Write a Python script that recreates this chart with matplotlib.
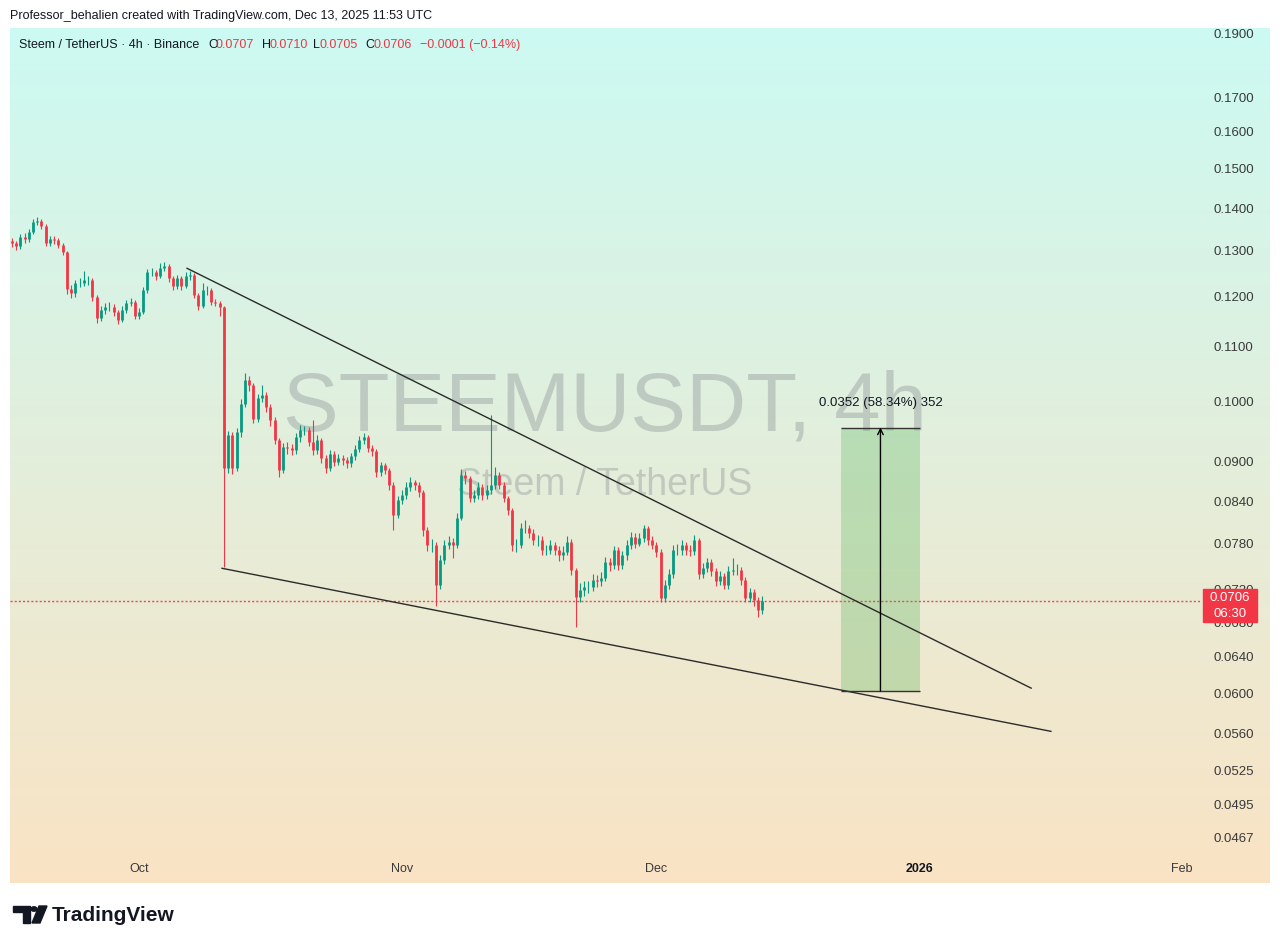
import matplotlib
matplotlib.use('Agg')
import matplotlib.pyplot as plt
import matplotlib.dates as mdates
from matplotlib.patches import Rectangle, Polygon, Circle
from matplotlib.ticker import NullLocator
import numpy as np
import pandas as pd

plt.rcParams['font.family'] = ['Liberation Sans', 'DejaVu Sans']

W, H = 1280, 947

# 12h candles from 2025-09-16
first_open = 0.1322
closes = [
    0.1317, 0.1311, 0.1331, 0.1326, 0.1343, 0.1367, 0.1369, 0.1358, 0.1317, 0.1326,
    0.1324, 0.1313, 0.1297, 0.1216, 0.1207, 0.1229, 0.1229, 0.1235, 0.1235, 0.1199,
    0.1156, 0.1172, 0.1178, 0.1178, 0.1168, 0.1152, 0.1172, 0.1187, 0.1189, 0.1160,
    0.1168, 0.1214, 0.1253, 0.1253, 0.1244, 0.1261, 0.1265, 0.1239, 0.1222, 0.1239,
    0.1222, 0.1244, 0.1246, 0.1204, 0.1180, 0.1214, 0.1214, 0.1189, 0.1187, 0.1178,
    0.0890, 0.0943, 0.0890, 0.0947, 0.0995, 0.1037, 0.1028, 0.0970, 0.1005, 0.1011,
    0.0990, 0.0967, 0.0934, 0.0887, 0.0923, 0.0921, 0.0918, 0.0939, 0.0951, 0.0951,
    0.0932, 0.0918, 0.0934, 0.0905, 0.0890, 0.0912, 0.0900, 0.0905, 0.0902, 0.0897,
    0.0908, 0.0920, 0.0934, 0.0939, 0.0921, 0.0916, 0.0884, 0.0894, 0.0887, 0.0864,
    0.0820, 0.0841, 0.0849, 0.0861, 0.0868, 0.0864, 0.0853, 0.0798, 0.0778, 0.0778,
    0.0725, 0.0758, 0.0778, 0.0782, 0.0778, 0.0816, 0.0879, 0.0874, 0.0844, 0.0849,
    0.0861, 0.0849, 0.0856, 0.0864, 0.0879, 0.0864, 0.0844, 0.0827, 0.0778, 0.0778,
    0.0801, 0.0801, 0.0795, 0.0785, 0.0785, 0.0771, 0.0771, 0.0778, 0.0771, 0.0764,
    0.0769, 0.0782, 0.0745, 0.0711, 0.0719, 0.0723, 0.0723, 0.0732, 0.0730, 0.0735,
    0.0755, 0.0751, 0.0771, 0.0751, 0.0764, 0.0778, 0.0789, 0.0780, 0.0787, 0.0801,
    0.0785, 0.0778, 0.0769, 0.0709, 0.0725, 0.0739, 0.0771, 0.0771, 0.0778, 0.0771,
    0.0770, 0.0785, 0.0739, 0.0747, 0.0755, 0.0743, 0.0730, 0.0737, 0.0725, 0.0743,
    0.0745, 0.0745, 0.0732, 0.0709, 0.0717, 0.0707, 0.0694, 0.0706,
]
highs = [
    0.1330, 0.1322, 0.1338, 0.1340, 0.1350, 0.1375, 0.1378, 0.1374, 0.1362, 0.1334,
    0.1333, 0.1330, 0.1318, 0.1300, 0.1225, 0.1236, 0.1240, 0.1255, 0.1245, 0.1240,
    0.1203, 0.1180, 0.1186, 0.1188, 0.1184, 0.1172, 0.1180, 0.1194, 0.1198, 0.1193,
    0.1176, 0.1220, 0.1260, 0.1262, 0.1258, 0.1273, 0.1275, 0.1270, 0.1244, 0.1246,
    0.1244, 0.1252, 0.1255, 0.1250, 0.1208, 0.1229, 0.1222, 0.1218, 0.1196, 0.1192,
    0.1180, 0.0950, 0.0948, 0.0955, 0.1003, 0.1050, 0.1045, 0.1032, 0.1012, 0.1028,
    0.1016, 0.0995, 0.0972, 0.0938, 0.0930, 0.0932, 0.0928, 0.0946, 0.0960, 0.0958,
    0.0956, 0.0967, 0.0942, 0.0938, 0.0910, 0.0918, 0.0916, 0.0912, 0.0910, 0.0907,
    0.0914, 0.0927, 0.0941, 0.0946, 0.0943, 0.0926, 0.0920, 0.0900, 0.0898, 0.0890,
    0.0868, 0.0848, 0.0856, 0.0868, 0.0876, 0.0872, 0.0868, 0.0856, 0.0803, 0.0786,
    0.0782, 0.0765, 0.0785, 0.0790, 0.0788, 0.0822, 0.0888, 0.0886, 0.0878, 0.0856,
    0.0868, 0.0866, 0.0864, 0.0976, 0.0892, 0.0884, 0.0868, 0.0848, 0.0830, 0.0786,
    0.0808, 0.0812, 0.0806, 0.0800, 0.0792, 0.0790, 0.0778, 0.0785, 0.0782, 0.0776,
    0.0776, 0.0790, 0.0786, 0.0748, 0.0728, 0.0730, 0.0731, 0.0739, 0.0738, 0.0742,
    0.0762, 0.0760, 0.0777, 0.0775, 0.0770, 0.0785, 0.0796, 0.0794, 0.0795, 0.0806,
    0.0804, 0.0790, 0.0782, 0.0772, 0.0732, 0.0746, 0.0778, 0.0779, 0.0785, 0.0782,
    0.0778, 0.0792, 0.0788, 0.0754, 0.0761, 0.0759, 0.0747, 0.0743, 0.0741, 0.0750,
    0.0760, 0.0752, 0.0749, 0.0736, 0.0722, 0.0720, 0.0710, 0.0712,
]
lows = [
    0.1308, 0.1303, 0.1305, 0.1318, 0.1320, 0.1338, 0.1360, 0.1350, 0.1310, 0.1310,
    0.1316, 0.1306, 0.1290, 0.1205, 0.1198, 0.1200, 0.1220, 0.1222, 0.1225, 0.1192,
    0.1146, 0.1150, 0.1165, 0.1170, 0.1160, 0.1145, 0.1148, 0.1166, 0.1180, 0.1154,
    0.1155, 0.1164, 0.1208, 0.1244, 0.1236, 0.1240, 0.1255, 0.1232, 0.1214, 0.1216,
    0.1215, 0.1218, 0.1236, 0.1198, 0.1172, 0.1176, 0.1203, 0.1182, 0.1180, 0.1160,
    0.0749, 0.0882, 0.0880, 0.0885, 0.0940, 0.0990, 0.1018, 0.0962, 0.0965, 0.0998,
    0.0982, 0.0958, 0.0928, 0.0876, 0.0882, 0.0912, 0.0910, 0.0912, 0.0932, 0.0942,
    0.0925, 0.0910, 0.0912, 0.0898, 0.0882, 0.0885, 0.0893, 0.0895, 0.0894, 0.0890,
    0.0892, 0.0903, 0.0915, 0.0928, 0.0915, 0.0908, 0.0876, 0.0878, 0.0880, 0.0856,
    0.0798, 0.0815, 0.0836, 0.0843, 0.0855, 0.0857, 0.0846, 0.0790, 0.0770, 0.0768,
    0.0700, 0.0720, 0.0752, 0.0772, 0.0760, 0.0774, 0.0812, 0.0866, 0.0838, 0.0838,
    0.0843, 0.0842, 0.0843, 0.0850, 0.0858, 0.0858, 0.0838, 0.0820, 0.0770, 0.0768,
    0.0774, 0.0794, 0.0788, 0.0778, 0.0776, 0.0764, 0.0764, 0.0766, 0.0764, 0.0757,
    0.0758, 0.0764, 0.0738, 0.0674, 0.0704, 0.0712, 0.0715, 0.0718, 0.0723, 0.0724,
    0.0730, 0.0744, 0.0746, 0.0745, 0.0746, 0.0758, 0.0772, 0.0774, 0.0776, 0.0782,
    0.0778, 0.0772, 0.0762, 0.0704, 0.0704, 0.0720, 0.0735, 0.0764, 0.0765, 0.0765,
    0.0763, 0.0765, 0.0733, 0.0734, 0.0742, 0.0737, 0.0724, 0.0725, 0.0720, 0.0721,
    0.0738, 0.0738, 0.0726, 0.0704, 0.0704, 0.0700, 0.0686, 0.0690,
]
opens = [first_open] + closes[:-1]
times = pd.date_range('2025-09-16', periods=len(closes), freq='12h')

# drawings on the chart
upper_line_dates = ['2025-10-06 16:00', '2026-01-14 05:00']
upper_line_prices = [0.1261, 0.0606]
lower_line_dates = ['2025-10-10 19:00', '2026-01-16 13:00']
lower_line_prices = [0.0747, 0.0562]
range_dates = ['2025-12-22 19:00', '2026-01-01 02:00']
range_prices = [0.0603, 0.0955]
range_label = '0.0352 (58.34%) 352'
last_price = 0.0706

price_ticks = [0.19, 0.17, 0.16, 0.15, 0.14, 0.13, 0.12, 0.11, 0.10, 0.09, 0.084,
               0.078, 0.072, 0.068, 0.064, 0.060, 0.056, 0.0525, 0.0495, 0.0467]
month_ticks = ['2025-10-01', '2025-11-01', '2025-12-01', '2026-01-01', '2026-02-01']
month_labels = ['Oct', 'Nov', 'Dec', '2026', 'Feb']

UP = '#089981'
DOWN = '#f23645'


def fx(x):
    return x / W


def fy(y):
    return 1 - y / H


fig = plt.figure(figsize=(W / 100, H / 100), dpi=100, facecolor='white')

# gradient background
bg = fig.add_axes([fx(10), fy(883), fx(1270) - fx(10), fy(28) - fy(883)])
top = np.array([0.80, 0.98, 0.95])
bottom = np.array([0.98, 0.89, 0.77])
t = np.linspace(0, 1, 256)[:, None]
grad = top[None, :] * (1 - t) + bottom[None, :] * t
bg.imshow(grad[:, None, :], aspect='auto', extent=[0, 1, 0, 1])
bg.axis('off')

ax = fig.add_axes([fx(10), fy(855), fx(1200) - fx(10), fy(28) - fy(855)])
ax.set_facecolor('none')
for s in ax.spines.values():
    s.set_visible(False)
ax.set_yscale('log')
ax.set_ylim(0.04529, 0.1918)
oct1 = mdates.date2num(pd.Timestamp('2025-10-01'))
ax.set_xlim(oct1 - 15.21, oct1 + 125.12)

# watermark
ax.text(0.5, 0.54, 'STEEMUSDT, 4h', transform=ax.transAxes, ha='center', va='center',
        fontsize=60, color='#7a7f87', alpha=0.33, zorder=0)
ax.text(0.5, 0.448, 'Steem / TetherUS', transform=ax.transAxes, ha='center', va='center',
        fontsize=27, color='#7a7f87', alpha=0.33, zorder=0)

# candles
xs = mdates.date2num(times)
colors = [UP if c >= o else DOWN for o, c in zip(opens, closes)]
ax.vlines(xs, lows, highs, colors=colors, linewidth=0.8, zorder=2)
ax.vlines(xs, opens, closes, colors=colors, linewidth=2.0, zorder=3)

# wedge lines
ax.plot(mdates.date2num(pd.to_datetime(upper_line_dates)), upper_line_prices,
        color='#2b2b2b', lw=1.0, zorder=4)
ax.plot(mdates.date2num(pd.to_datetime(lower_line_dates)), lower_line_prices,
        color='#2b2b2b', lw=1.0, zorder=4)

# last price line
ax.axhline(last_price, color=DOWN, ls=(0, (1.5, 1.5)), lw=1.0, alpha=0.9, zorder=1)

# price range tool
rx = mdates.date2num(pd.to_datetime(range_dates))
ax.fill_between(rx, range_prices[0], range_prices[1], color='#4caf50', alpha=0.28,
                lw=0, zorder=3)
ax.hlines(range_prices, rx[0], rx[1], color='#333333', lw=1.0, zorder=4)
mid = rx.mean()
ax.annotate('', xy=(mid, range_prices[1]), xytext=(mid, range_prices[0]),
            arrowprops=dict(arrowstyle='->', color='black', lw=1.0,
                            shrinkA=0, shrinkB=0), zorder=5)
ax.annotate(range_label, xy=(mid, range_prices[1]), xytext=(0, 18),
            textcoords='offset points', ha='center', va='center', fontsize=9.5,
            color='#131722')

# axes ticks
ax.yaxis.tick_right()
ax.set_yticks(price_ticks)
ax.set_yticklabels(['%.4f' % p for p in price_ticks])
ax.yaxis.set_minor_locator(NullLocator())
ax.tick_params(axis='y', length=0, pad=9.5, labelsize=9.5, labelcolor='#3a3a3a')
ax.set_xticks(mdates.date2num(pd.to_datetime(month_ticks)))
ax.set_xticklabels(month_labels)
ax.tick_params(axis='x', length=0, pad=5.5, labelsize=9, labelcolor='#3a3a3a')
ax.get_xticklabels()[3].set_fontweight('bold')
ax.get_xticklabels()[3].set_color('#131722')

# last price label
fig.add_artist(Rectangle((fx(1203), fy(622)), 54 / W, 33 / H, transform=fig.transFigure,
                         color=DOWN, zorder=10))
fig.text(fx(1230), fy(598), '%.4f' % last_price, ha='center', va='center', color='white',
         fontsize=9.5, zorder=11)
fig.text(fx(1230), fy(614), '06:30', ha='center', va='center', color='white',
         fontsize=9.5, zorder=11)

# header texts
fig.text(fx(10), fy(16), 'Professor_behalien created with TradingView.com, Dec 13, 2025 11:53 UTC',
         ha='left', va='center', fontsize=9, color='#131722')
legend_parts = [
    (19, 'Steem / TetherUS · 4h · Binance', '#131722'),
    (208, 'O', '#131722'), (216, '0.0707', DOWN),
    (262, 'H', '#131722'), (270, '0.0710', DOWN),
    (313, 'L', '#131722'), (320, '0.0705', DOWN),
    (365, 'C', '#131722'), (373, '0.0706', DOWN),
    (420, '\u22120.0001 (\u22120.14%)', DOWN),
]
for x, s, c in legend_parts:
    fig.text(fx(x), fy(45), s, ha='left', va='center', fontsize=9, color=c)

# TradingView logo
fig.add_artist(Polygon([(fx(13), fy(906)), (fx(30), fy(906)), (fx(30), fy(923)),
                        (fx(23), fy(923)), (fx(23), fy(912)), (fx(13), fy(912))],
                       closed=True, transform=fig.transFigure, color='#131722'))
fig.add_artist(Circle((fx(34), fy(909)), 3 / W, transform=fig.transFigure, color='#131722'))
fig.add_artist(Polygon([(fx(39), fy(906)), (fx(47), fy(906)), (fx(40), fy(923)),
                        (fx(32), fy(923))],
                       closed=True, transform=fig.transFigure, color='#131722'))
fig.text(fx(52), fy(915), 'TradingView', ha='left', va='center', fontsize=15,
         fontweight='bold', color='#131722')

fig.savefig('out.png', dpi=100, facecolor='white')
